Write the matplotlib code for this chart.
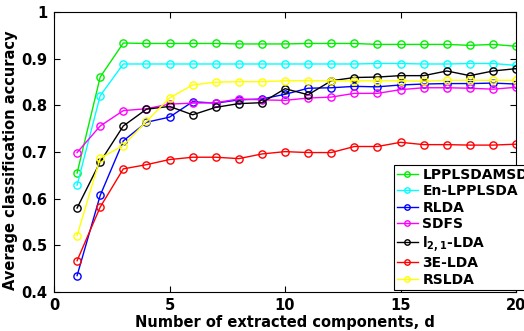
import numpy as np
import matplotlib
matplotlib.use('Agg')
import matplotlib.pyplot as plt

plt.rcParams['font.family'] = ['DejaVu Sans']
plt.rcParams['font.weight'] = 'bold'
plt.rcParams['mathtext.fontset'] = 'dejavusans'

# Number of extracted components
d = np.arange(1, 21)

# Accuracy per method
lpplsdamsd = [0.655, 0.861, 0.934, 0.933, 0.933, 0.933, 0.933, 0.932, 0.932, 0.932,
              0.933, 0.933, 0.933, 0.931, 0.931, 0.931, 0.931, 0.929, 0.931, 0.927]
en_lpplsda = [0.629, 0.821, 0.889, 0.889, 0.889, 0.889, 0.889, 0.889, 0.889, 0.889,
              0.889, 0.889, 0.889, 0.890, 0.890, 0.889, 0.889, 0.890, 0.890, 0.886]
rlda = [0.435, 0.607, 0.724, 0.764, 0.775, 0.808, 0.805, 0.812, 0.814, 0.824,
        0.837, 0.838, 0.841, 0.840, 0.844, 0.846, 0.847, 0.847, 0.848, 0.846]
sdfs = [0.699, 0.756, 0.789, 0.793, 0.803, 0.805, 0.806, 0.814, 0.812, 0.811,
        0.816, 0.818, 0.826, 0.826, 0.834, 0.838, 0.838, 0.837, 0.835, 0.839]
l21_lda = [0.580, 0.679, 0.756, 0.792, 0.798, 0.780, 0.796, 0.804, 0.806, 0.836,
           0.823, 0.853, 0.860, 0.861, 0.864, 0.864, 0.874, 0.864, 0.874, 0.879]
e3_lda = [0.467, 0.582, 0.664, 0.673, 0.684, 0.689, 0.689, 0.686, 0.696, 0.701,
          0.699, 0.699, 0.712, 0.712, 0.721, 0.716, 0.716, 0.715, 0.715, 0.717]
rslda = [0.521, 0.687, 0.714, 0.766, 0.816, 0.844, 0.850, 0.851, 0.851, 0.853,
         0.853, 0.853, 0.853, 0.853, 0.853, 0.852, 0.854, 0.854, 0.854, 0.854]

series = [
    (lpplsdamsd, '#00ee00', 'LPPLSDAMSD'),
    (en_lpplsda, '#00ffff', 'En-LPPLSDA'),
    (rlda, '#0000ff', 'RLDA'),
    (sdfs, '#ff00ff', 'SDFS'),
    (l21_lda, '#000000', r'$\mathbf{l_{2,1}}$-LDA'),
    (e3_lda, '#ff0000', '3E-LDA'),
    (rslda, '#ffff00', 'RSLDA'),
]

fig = plt.figure(figsize=(5.24, 3.31), dpi=100)
ax = fig.add_axes([0.103, 0.118, 0.882, 0.845])

for vals, col, lab in series:
    ax.plot(d, vals, color=col, marker='o', markerfacecolor='none',
            markersize=5.2, markeredgewidth=1.0, linewidth=1.0, label=lab)

ax.set_xlim(0, 20)
ax.set_ylim(0.4, 1.0)
ax.set_xticks([0, 5, 10, 15, 20])
ax.set_yticks([0.4, 0.5, 0.6, 0.7, 0.8, 0.9, 1.0])
ax.set_yticklabels(['0.4', '0.5', '0.6', '0.7', '0.8', '0.9', '1'])
ax.tick_params(direction='in', top=True, right=True, labelsize=10.5, length=4, pad=4.5)
ax.set_xlabel('Number of extracted components, d', fontsize=10.5, fontweight='bold', labelpad=1)
ax.set_ylabel('Average classification accuracy', fontsize=10.5, fontweight='bold')
ax.yaxis.set_label_coords(-0.078, 0.47)

leg = ax.legend(loc='lower left', bbox_to_anchor=(394 / 524, 1 - 289.5 / 331),
                bbox_transform=fig.transFigure, fontsize=10, frameon=True,
                fancybox=False, edgecolor='black', framealpha=1,
                handlelength=1.5, handletextpad=0.35, labelspacing=0.18,
                borderpad=0.2, borderaxespad=0, markerscale=0.75)
leg.get_frame().set_linewidth(0.8)

fig.savefig('out.png', dpi=100)
